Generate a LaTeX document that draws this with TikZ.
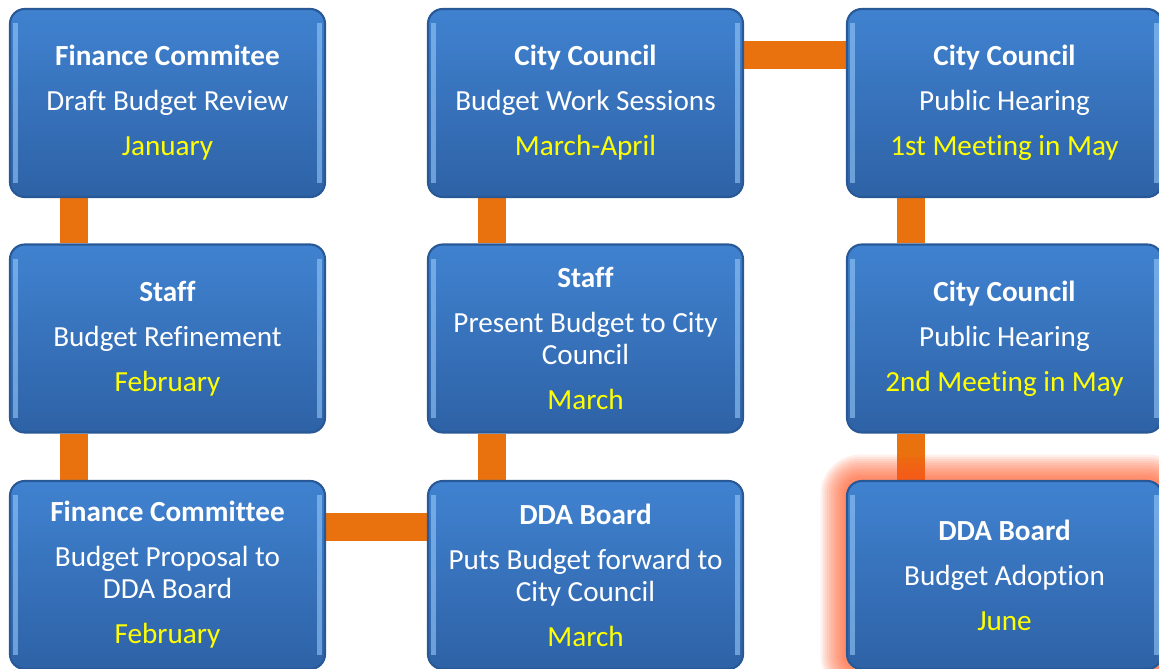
\documentclass[tikz,border=0pt]{standalone}
\usepackage{fontspec}
\setmainfont{Carlito}[Ligatures=NoCommon]
\usetikzlibrary{backgrounds}
\definecolor{blue1}{RGB}{64, 130, 208}
\definecolor{blue2}{RGB}{46, 98, 166}
\definecolor{blue3}{RGB}{40, 88, 150}
\definecolor{edge1}{RGB}{150, 200, 248}
\definecolor{orange1}{RGB}{234, 114, 14}
\definecolor{glow1}{RGB}{255, 85, 35}
\definecolor{yellow1}{RGB}{255, 255, 0}
\tikzset{
  stage/.style={rounded corners=4.2pt, minimum width=31.5mm, minimum height=18.8mm,
    top color=blue1, bottom color=blue2, draw=blue3, line width=0.6pt,
    text=white, align=center, font=\fontsize{8.3pt}{9.1pt}\selectfont,
    path picture={
      \draw[edge1, line width=1.3pt, opacity=.6]
        ([shift={(1.5pt,-4pt)}]path picture bounding box.north west) --
        ([shift={(1.5pt,4pt)}]path picture bounding box.south west);
      \draw[edge1, line width=1.3pt, opacity=.6]
        ([shift={(-1.5pt,-4pt)}]path picture bounding box.north east) --
        ([shift={(-1.5pt,4pt)}]path picture bounding box.south east);
    }},
  link/.style={orange1, line width=2.8mm},
}
\newcommand{\who}[1]{{\bfseries #1}\\[3.7pt]}
\newcommand{\when}[1]{\\[3.7pt]{\color{yellow1}#1}}

\begin{document}
\begin{tikzpicture}[x=0.1mm, y=-0.1mm]
  \useasboundingbox (0,0) rectangle (1159,669);
  \node[stage] (n1) at (167.5,103) {\who{Finance Commitee}Draft Budget Review\when{January}};
  \node[stage] (n2) at (167.5,338.5) {\who{Staff}Budget Refinement\when{February}};
  \node[stage] (n3) at (167.5,575) {\who{Finance Committee}Budget Proposal to\\DDA Board\when{February}};
  \node[stage] (n4) at (585.5,575) {\who{DDA Board}Puts Budget forward to\\City Council\when{March}};
  \node[stage] (n5) at (585.5,338.5) {\who{Staff}Present Budget to City\\Council\when{March}};
  \node[stage] (n6) at (585.5,103) {\who{City Council}Budget Work Sessions\when{March-April}};
  \node[stage] (n7) at (1004.5,103) {\who{City Council}Public Hearing\when{1st Meeting in May}};
  \node[stage] (n8) at (1004.5,338.5) {\who{City Council}Public Hearing\when{2nd Meeting in May}};
  \node[stage] (n9) at (1004.5,575) {\who{DDA Board}Budget Adoption\when{June}};
  \begin{scope}[on background layer]
    \foreach \from/\to in {n1/n2, n2/n3, n5/n4, n6/n5, n7/n8, n8/n9}
      \draw[link] ([xshift=-9.35mm]\from.south) -- ([xshift=-9.35mm]\to.north);
    \foreach \from/\to in {n3/n4, n6/n7}
      \draw[link] ([yshift=4.8mm]\from.east) -- ([yshift=4.8mm]\to.west);
    % glow round the last step
    \foreach \r in {1,...,12}
      \fill[glow1, opacity=0.09, rounded corners=4pt+\r*0.6pt]
        ([shift={(-\r*0.6pt,\r*0.6pt)}]n9.north west) rectangle
        ([shift={(\r*0.6pt,-\r*0.6pt)}]n9.south east);
  \end{scope}
\end{tikzpicture}
\end{document}
